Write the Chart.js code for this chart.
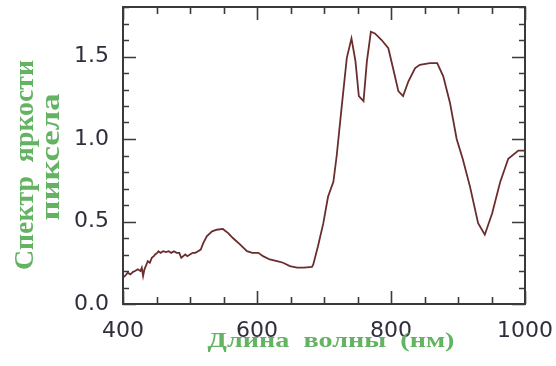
<!DOCTYPE html>
<html>
<head>
<meta charset="utf-8">
<script src="https://cdn.jsdelivr.net/npm/chart.js@4"></script>
<style>
    html, body { margin: 0; padding: 0; background: #fff; }
    #wrap { width: 556px; height: 366px; }
</style>
</head>
<body>
<div id="wrap"><canvas id="spectrum"></canvas></div>
<script>
// wavelength, nm
let wavelengths = [400, 403, 407, 411, 415, 418, 422, 426, 428, 430, 432, 434, 437, 440, 443, 446, 448, 451, 453, 456,
    460, 464, 468, 472, 476, 480, 484, 487, 490, 493, 496, 500, 504, 508, 512, 516, 520, 525, 533, 540,
    549, 557, 564, 575, 585, 593, 602, 609, 619, 630, 639, 649, 660, 670, 682, 684, 691, 699, 706, 714,
    719, 726, 734, 741, 747, 752, 759, 764, 770, 776, 786, 796, 803, 811, 818, 826, 836, 843, 858, 869,
    878, 888, 898, 907, 918, 930, 940, 951, 963, 975, 990, 1000];
// pixel brightness spectrum
let brightness = [0.16, 0.17, 0.19, 0.18, 0.195, 0.20, 0.21, 0.20, 0.22, 0.17, 0.21, 0.23, 0.26, 0.25, 0.28, 0.29, 0.30, 0.31, 0.32, 0.31,
    0.32, 0.315, 0.32, 0.31, 0.32, 0.31, 0.31, 0.28, 0.29, 0.30, 0.29, 0.30, 0.31, 0.31, 0.32, 0.33, 0.37, 0.41, 0.44, 0.45,
    0.455, 0.43, 0.40, 0.36, 0.32, 0.31, 0.31, 0.29, 0.27, 0.26, 0.25, 0.23, 0.22, 0.22, 0.225, 0.24, 0.35, 0.49, 0.65, 0.74,
    0.90, 1.18, 1.49, 1.61, 1.47, 1.26, 1.23, 1.47, 1.65, 1.64, 1.60, 1.55, 1.43, 1.29, 1.26, 1.35, 1.43, 1.45, 1.46, 1.46,
    1.38, 1.22, 1.00, 0.88, 0.71, 0.49, 0.42, 0.55, 0.74, 0.88, 0.93, 0.93];

let x_ticks = [400, 600, 800, 1000];
let y_ticks = [0, 0.5, 1.0, 1.5];
let x_minor = [];
for (let v = 400; v <= 1000; v += 50) x_minor.push(v);
let y_minor = [];
for (let i = 0; i <= 18; i++) y_minor.push(i / 10);

let x_title = 'Длина  волны  (нм)';
let y_title = ['Спектр  яркости', 'пиксела'];

const green = '#63b363';
const tickColor = '#2e2e3c';

// box + inward ticks on all four sides
const frameTicks = {
    id: 'frameTicks',
    afterDraw(chart) {
        const ctx = chart.ctx;
        const a = chart.chartArea;
        const xs = chart.scales.x, ys = chart.scales.y;
        ctx.save();
        ctx.strokeStyle = '#3a3a3a';
        ctx.lineWidth = 1.6;
        x_minor.forEach(v => {
            const px = Math.round(xs.getPixelForValue(v)) + 0.5;
            const len = x_ticks.includes(v) ? 13 : 7;
            ctx.beginPath();
            ctx.moveTo(px, a.bottom); ctx.lineTo(px, a.bottom - len);
            ctx.moveTo(px, a.top); ctx.lineTo(px, a.top + len);
            ctx.stroke();
        });
        y_minor.forEach(v => {
            const py = Math.round(ys.getPixelForValue(v)) + 0.5;
            const len = y_ticks.some(t => Math.abs(t - v) < 1e-9) ? 13 : 6;
            ctx.beginPath();
            ctx.moveTo(a.left, py); ctx.lineTo(a.left + len, py);
            ctx.moveTo(a.right, py); ctx.lineTo(a.right - len, py);
            ctx.stroke();
        });
        ctx.lineWidth = 2;
        ctx.strokeRect(a.left, a.top, a.right - a.left, a.bottom - a.top);
        ctx.restore();
    }
};

// axis titles, stretched to the width they take in the original
function fitText(ctx, text, x, y, span, rot) {
    const w = ctx.measureText(text).width;
    ctx.save();
    ctx.translate(x, y);
    ctx.rotate(rot);
    ctx.scale(span / w, 1);
    ctx.fillText(text, 0, 0);
    ctx.restore();
}
const axisTitles = {
    id: 'axisTitles',
    afterDraw(chart) {
        const ctx = chart.ctx;
        const a = chart.chartArea;
        ctx.save();
        ctx.fillStyle = green;
        ctx.textAlign = 'center';
        ctx.textBaseline = 'alphabetic';
        ctx.font = 'bold 21px "Liberation Serif"';
        fitText(ctx, x_title, (a.left + a.right) / 2 + 7, 347, 247, 0);
        ctx.font = 'bold 27px "Liberation Serif"';
        fitText(ctx, y_title[0], 33, 165, 210, -Math.PI / 2);
        fitText(ctx, y_title[1], 59, 157, 127, -Math.PI / 2);
        ctx.restore();
    }
};

new Chart(document.getElementById('spectrum'), {
    type: 'line',
    data: {
        datasets: [{
            data: wavelengths.map((w, i) => ({x: w, y: brightness[i]})),
            borderColor: '#6a2d2d',
            borderWidth: 1.8,
            pointRadius: 0,
            tension: 0,
            fill: false
        }]
    },
    options: {
        responsive: true,
        maintainAspectRatio: false,
        animation: false,
        layout: { padding: { top: 7, right: 31, left: 0, bottom: 0 } },
        plugins: { legend: { display: false }, tooltip: { enabled: false } },
        scales: {
            x: {
                type: 'linear',
                min: 400,
                max: 1000,
                afterBuildTicks: (s) => { s.ticks = x_ticks.map(v => ({value: v})); },
                afterFit: (s) => { s.height = 62; s.paddingLeft = 0; s.paddingRight = 0; },
                grid: { display: false },
                border: { display: false },
                ticks: {
                    color: tickColor,
                    padding: 6,
                    maxRotation: 0,
                    callback: (v) => String(v),
                    font: { family: 'DejaVu Sans', size: 22 }
                }
            },
            y: {
                min: 0,
                max: 1.8,
                afterBuildTicks: (s) => { s.ticks = y_ticks.map(v => ({value: v})); },
                afterFit: (s) => { s.width = 123; s.paddingTop = 0; s.paddingBottom = 0; },
                grid: { display: false },
                border: { display: false },
                ticks: {
                    color: tickColor,
                    padding: 6,
                    callback: (v) => v.toFixed(1),
                    font: { family: 'DejaVu Sans', size: 22 }
                }
            }
        }
    },
    plugins: [frameTicks, axisTitles]
});
</script>
</body>
</html>
